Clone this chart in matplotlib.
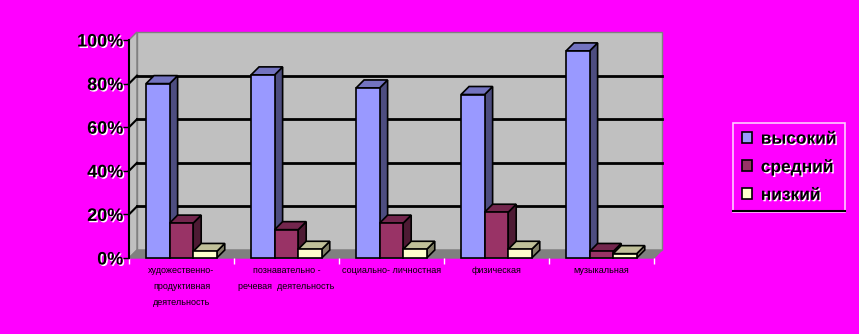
import matplotlib
matplotlib.use("Agg")
import matplotlib.pyplot as plt
from matplotlib.patches import Polygon, Rectangle
from matplotlib.lines import Line2D
import matplotlib.patheffects as pe

categories = ["художественно-\nпродуктивная\nдеятельность",
              "познавательно -\nречевая  деятельность",
              "социально- личностная",
              "физическая",
              "музыкальная"]
series_names = ["высокий", "средний", "низкий"]
vysokiy = [80, 84, 78, 75, 95]
sredniy = [16, 13, 16, 21, 3]
nizkiy = [3, 4, 4, 4, 2]
yticks = [0, 20, 40, 60, 80, 100]
ytick_labels = ["0%", "20%", "40%", "60%", "80%", "100%"]

front_colors = ["#9999FF", "#993366", "#FFFFCC"]
top_colors = ["#7373C0", "#73264D", "#C0C099"]
side_colors = ["#4D4D80", "#4D1A33", "#808066"]

plt.rcParams['font.family'] = ['Liberation Sans', 'DejaVu Sans']

W, H = 859, 334
fig = plt.figure(figsize=(W / 100, H / 100), dpi=100, facecolor="#FF00FF")
ax_l, ax_r, ax_t, ax_b = 129, 654, 40, 258
ax = fig.add_axes([ax_l / W, (H - ax_b) / H, (ax_r - ax_l) / W, (ax_b - ax_t) / H])
ax.set_facecolor("none")
n = len(categories)
ax.set_xlim(-0.5, n - 0.5)
ax.set_ylim(0, 100)

# depth offset (pixels -> data units)
dpx, dpy = 8, 8
ddx = dpx / (ax_r - ax_l) * n
ddy = dpy / (ax_b - ax_t) * 100

x0, x1 = -0.5, n - 0.5
# walls and floor
ax.add_patch(Polygon([(x0, 0), (x0, 100), (x0 + ddx, 100 + ddy), (x0 + ddx, ddy)],
                     closed=True, fc="#C0C0C0", ec="#808080", lw=1, clip_on=False, zorder=1))
ax.add_patch(Rectangle((x0 + ddx, ddy), x1 - x0, 100, fc="#C0C0C0", ec="#808080",
                       lw=1, clip_on=False, zorder=1))
ax.add_patch(Polygon([(x0, 0), (x1, 0), (x1 + ddx, ddy), (x0 + ddx, ddy)],
                     closed=True, fc="#808080", ec="#808080", lw=1, clip_on=False, zorder=1))
for v in yticks[1:-1]:
    ax.add_line(Line2D([x0 + ddx, x1 + ddx], [v + ddy, v + ddy], color="black", lw=2,
                       clip_on=False, zorder=2))
    ax.add_line(Line2D([x0, x0 + ddx], [v, v + ddy], color="black", lw=1.5,
                       clip_on=False, zorder=2))

# bars
gap = 17 / 104.7
w = 23.5 / 104.7
z = 3
data = [vysokiy, sredniy, nizkiy]
for i in range(n):
    for s in range(3):
        v = data[s][i]
        xl = i - 0.5 + gap + s * w
        xr = xl + w
        ax.add_patch(Polygon([(xr, 0), (xr, v), (xr + ddx, v + ddy), (xr + ddx, ddy)],
                             closed=True, fc=side_colors[s], ec="black", lw=1.2,
                             clip_on=False, zorder=z))
        ax.add_patch(Polygon([(xl, v), (xr, v), (xr + ddx, v + ddy), (xl + ddx, v + ddy)],
                             closed=True, fc=top_colors[s], ec="black", lw=1.2,
                             clip_on=False, zorder=z))
        ax.add_patch(Rectangle((xl, 0), w, v, fc=front_colors[s], ec="black", lw=1.2,
                               clip_on=False, zorder=z + 0.5))
        z += 1

# axes styling
for sp in ["top", "right", "bottom"]:
    ax.spines[sp].set_visible(False)
ax.spines["left"].set_color("black")
ax.spines["left"].set_linewidth(1.5)
ax.spines["left"].set_zorder(50)
ax.set_yticks(yticks)
ax.set_yticklabels(ytick_labels, fontsize=13, fontweight="bold",
                   path_effects=[pe.withSimplePatchShadow(offset=(1, -1), shadow_rgbFace="white", alpha=1)])
ax.tick_params(axis="y", direction="out", length=4, width=1, color="black", pad=0)

ax.set_xticks([i for i in range(n)])
ax.set_xticklabels(categories, fontsize=6.5, linespacing=2.0, va="top")
ax.set_xticks([i - 0.5 for i in range(n + 1)], minor=True)
ax.tick_params(axis="x", which="major", length=0, pad=6)
ax.tick_params(axis="x", which="minor", length=4, width=1, color="white", direction="out")

# legend
handles = [Rectangle((0, 0), 1, 1, fc=front_colors[s], ec="black", lw=1.2) for s in range(3)]
leg = fig.legend(handles, series_names, loc="upper left",
                 bbox_to_anchor=(733 / W, 1 - 123 / H), frameon=True, fancybox=False,
                 prop={"size": 12.5, "weight": "bold"}, handlelength=0.6, handleheight=0.6,
                 handletextpad=0.5, labelspacing=0.74, borderpad=0.5, borderaxespad=0)
leg.get_frame().set_facecolor("#FF00FF")
leg.get_frame().set_edgecolor("white")
leg.get_frame().set_linewidth(1.2)
for t in leg.get_texts():
    t.set_path_effects([pe.withSimplePatchShadow(offset=(1, -1), shadow_rgbFace="white", alpha=1)])

fig.canvas.draw()
bb = leg.get_window_extent()
fig.add_artist(Line2D([bb.x0, bb.x1], [bb.y0 + 0.5, bb.y0 + 0.5], color="black", lw=1.5,
                      transform=None, zorder=20))

fig.savefig("out.png", dpi=100, facecolor=fig.get_facecolor())
